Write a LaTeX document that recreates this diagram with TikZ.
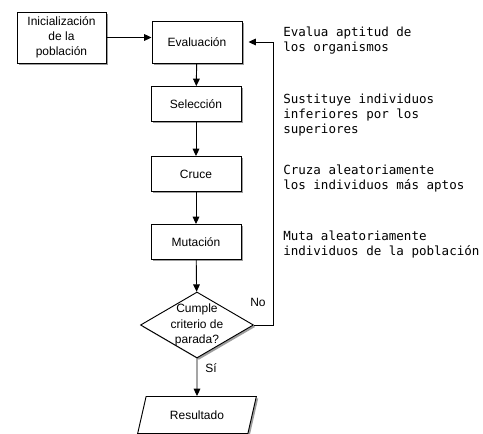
\documentclass[tikz,border=0pt]{standalone}
\usepackage{fontspec}
\setmainfont{Liberation Sans}
\newfontfamily\noteFont{DejaVu Sans Mono}
\usepackage{tikz}
\usetikzlibrary{positioning, shapes.geometric, shadows, arrows.meta}
\tikzstyle{pixelGrid} = [x = 0.75pt, y = -0.75pt]
\tikzstyle{stepShadow} = [drop shadow = {shadow xshift = 1.4pt, shadow yshift = -1.4pt, fill = black!55, opacity = .7}]
\tikzstyle{stepFont} = [font = \fontsize{9}{11.4}\selectfont, align = center]
\tikzstyle{stepBox} = [draw, line width = .7pt, fill = white, stepShadow, stepFont, minimum width = 67.5pt, minimum height = 26.25pt, inner sep = 0pt]
\tikzstyle{stopShape} = [draw, line width = .7pt, fill = white, stepShadow, diamond, minimum width = 84.75pt, minimum height = 49.5pt, inner sep = 0pt]
\tikzstyle{resultShape} = [draw, line width = .7pt, fill = white, stepShadow, stepFont, trapezium, trapezium left angle = 63, trapezium right angle = 117, trapezium stretches = true, minimum width = 89.25pt, minimum height = 27.75pt, inner sep = 0pt]
\tikzstyle{flowLine} = [-{Triangle[length = 5.5pt, width = 5pt]}, line width = .7pt]
\tikzstyle{noteText} = [anchor = west, inner sep = 0pt, align = left, font = \noteFont\fontsize{9.4}{11.25}\selectfont]
\tikzstyle{branchText} = [inner sep = 0pt, font = \fontsize{9}{11}\selectfont]
\newcommand{\stepNode}[3]{\node [stepBox] (#1) at (196, #2) {#3};}

\begin{document}
\begin{tikzpicture}[pixelGrid]
  \useasboundingbox (0, 0) rectangle (483, 434);

  % steps of the loop
  \node [stepBox, minimum width = 66.75pt, minimum height = 38.25pt] (initBox) at (61.5, 37.5) {Inicialización\\de la\\población};
  \node [stepBox, minimum height = 31.5pt] (evalBox) at (197, 42) {Evaluación};
  \stepNode{selBox}{104}{Selección}
  \stepNode{crossBox}{174}{Cruce}
  \stepNode{mutBox}{242}{Mutación}
  \node [stopShape] (stopTest) at (197, 325) {};
  \node [stepFont, font = \fontsize{9}{11.6}\selectfont] (stopText) at (stopTest) {Cumple\\criterio de\\parada?};
  \node [resultShape] (resultBox) at (197, 415) {Resultado};

  \draw [flowLine] (initBox.east) -- (initBox.east -| evalBox.west);
  \draw [flowLine] (evalBox) -- (selBox);
  \draw [flowLine] (selBox) -- (crossBox);
  \draw [flowLine] (crossBox) -- (mutBox);
  \draw [flowLine] (mutBox) -- (stopTest);
  \draw [flowLine] (stopTest) -- (resultBox);

  \coordinate (loopRight) at (273, 0);
  \draw [flowLine, shorten > = 4.5pt] (stopTest.east) -- (stopTest.east -| loopRight) |- (evalBox.east);

  \node [branchText] (noLabel) at (258, 302) {No};
  \node [branchText] (siLabel) at (211, 368) {Sí};

  % notes on the right
  \node [noteText] (evalNote) at (283, 40.5) {Evalua aptitud de\\los organismos};
  \node [noteText] (selNote) at (283, 115) {Sustituye individuos\\inferiores por los\\superiores};
  \node [noteText] (crossNote) at (283, 179) {Cruza aleatoriamente\\los individuos más aptos};
  \node [noteText] (mutNote) at (283, 244.5) {Muta aleatoriamente\\individuos de la población};
\end{tikzpicture}
\end{document}
